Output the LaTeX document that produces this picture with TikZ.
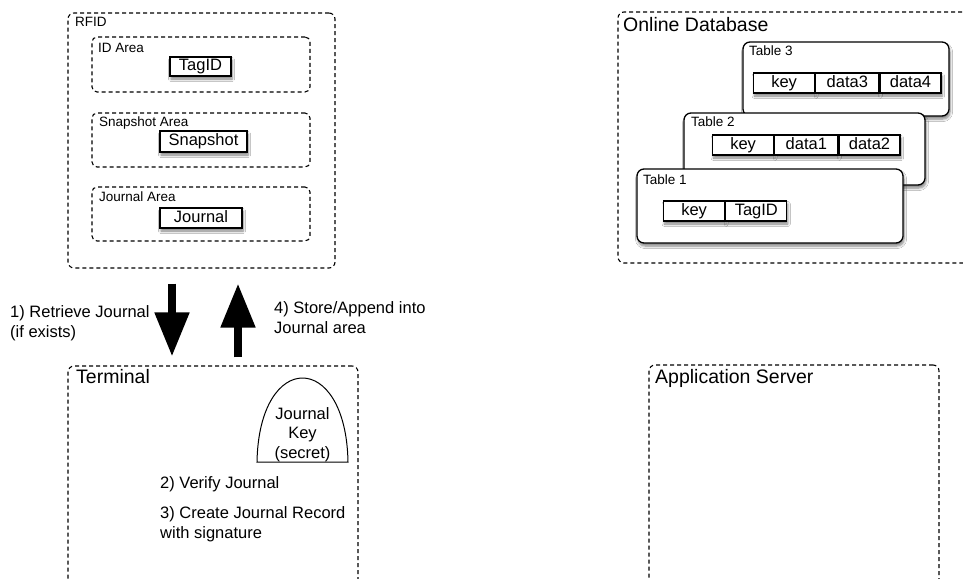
\documentclass[tikz,border=0pt]{standalone}
\usepackage{fontspec}
\setmainfont{Liberation Sans}
\usetikzlibrary{arrows.meta}
\usetikzlibrary{calc}
\usetikzlibrary{shadows.blur}

\begin{document}
\begin{tikzpicture}[x=1pt, y=-1pt,
        area_style/.style={draw, dash pattern=on 4pt off 3pt, line width=1.1pt, rounded corners=6pt, inner sep=0pt},
        sub_area_style/.style={draw, dash pattern=on 4pt off 3pt, line width=1.1pt, rounded corners=5pt, inner sep=0pt},
        soft_shadow/.style={blur shadow={shadow xshift=1pt, shadow yshift=-3pt, shadow blur radius=2.5pt, shadow blur steps=6, shadow opacity=50}},
        field_style/.style={draw, fill=white, line width=1.2pt, inner sep=0pt, text height=12pt, text depth=3.5pt, soft_shadow, font=\fontsize{16.5}{19}\selectfont},
        table_style/.style={draw, fill=white, line width=1.3pt, rounded corners=7pt, inner sep=0pt, soft_shadow},
        cell_style/.style={field_style, minimum height=20pt, anchor=west},
        small_label/.style={anchor=base west, inner sep=0pt, font=\fontsize{13.5}{16}\selectfont},
        big_label/.style={anchor=base west, inner sep=0pt, font=\fontsize{19.5}{22}\selectfont},
        text_label/.style={anchor=base west, inner sep=0pt, align=left, font=\fontsize{16.5}{19.5}\selectfont},
        block_arrow/.style={draw=black, line width=8pt, -{Triangle[width=33pt, length=44pt]}}]

        \useasboundingbox (0,0) rectangle (963,578);
        \fill [white] (0,0) rectangle (963,578);
        \clip (0,0) rectangle (963,578);

        \node [area_style, minimum width=267pt, minimum height=255pt](rfid) at (201.5,140.5) {};
        \node [small_label](rfid_label) at (75,26.5) {RFID};
        \node [sub_area_style, minimum width=218pt, minimum height=55pt](id_area) at (201,64.5) {};
        \node [small_label](id_area_label) at (98,52.5) {ID Area};
        \node [field_style, minimum width=61pt, minimum height=19pt](tag_id) at (200.5,66.5) {TagID};
        \node [sub_area_style, minimum width=218pt, minimum height=54pt](snap_area) at (201,140) {};
        \node [small_label](snap_area_label) at (99,126) {Snapshot Area};
        \node [field_style, minimum width=87pt, minimum height=21pt](snapshot) at (203.5,141.5) {Snapshot};
        \node [sub_area_style, minimum width=218pt, minimum height=54pt](journal_area) at (201,214) {};
        \node [small_label](journal_area_label) at (99,201) {Journal Area};
        \node [field_style, minimum width=82pt, minimum height=20pt](journal) at (201,218) {Journal};

        \node [area_style, minimum width=357pt, minimum height=251pt](online_db) at (796.5,137.5) {};
        \node [big_label](online_db_label) at (623,31.5) {Online Database};
        \node [table_style, minimum width=206pt, minimum height=74pt](table3) at (846,79) {};
        \node [small_label](table3_label) at (749,56) {Table 3};
        \node [cell_style, minimum width=61pt](t3_key) at (753,83) {key};
        \node [cell_style, minimum width=63pt](t3_data3) at (t3_key.east) {data3};
        \node [cell_style, minimum width=61pt](t3_data4) at (t3_data3.east) {data4};
        \node [table_style, minimum width=241pt, minimum height=72pt](table2) at (804.5,149) {};
        \node [small_label](table2_label) at (691,126) {Table 2};
        \node [cell_style, minimum width=61pt](t2_key) at (712,145) {key};
        \node [cell_style, minimum width=63pt](t2_data1) at (t2_key.east) {data1};
        \node [cell_style, minimum width=61pt](t2_data2) at (t2_data1.east) {data2};
        \node [table_style, minimum width=266pt, minimum height=74pt](table1) at (770,206) {};
        \node [small_label](table1_label) at (643,184) {Table 1};
        \node [cell_style, minimum width=61pt](t1_key) at (663,211) {key};
        \node [cell_style, minimum width=61pt](t1_tag_id) at (t1_key.east) {TagID};

        \node [area_style, minimum width=290pt, minimum height=234pt](terminal) at (213,483) {};
        \node [big_label](terminal_label) at (76,383) {Terminal};
        \node [area_style, minimum width=290pt, minimum height=235pt](app_server) at (794,482.5) {};
        \node [big_label](app_server_label) at (655,383) {Application Server};

        \draw [line width=1pt] (257,462) .. controls (259,350) and (346,350) .. (348,462) -- cycle;
        \node [text_label, align=center, anchor=base](journal_key) at (302.5,458) {Journal\\Key\\(secret)};
        \node [text_label](verify) at (160,488) {2) Verify Journal};
        \node [text_label](create) at (160,538) {3) Create Journal Record\\with signature};

        \coordinate (down_x) at (172,0);
        \coordinate (up_x) at (238,0);
        \draw [block_arrow, shorten <=15pt, shorten >=9pt] (rfid.south -| down_x) -- (terminal.north -| down_x);
        \draw [block_arrow, shorten <=8pt, shorten >=15pt] (terminal.north -| up_x) -- (rfid.south -| up_x);
        \node [text_label](retrieve) at (10,337) {1) Retrieve Journal\\(if exists)};
        \node [text_label](store) at (274,333) {4) Store/Append into\\Journal area};
        \end{tikzpicture}
\end{document}
